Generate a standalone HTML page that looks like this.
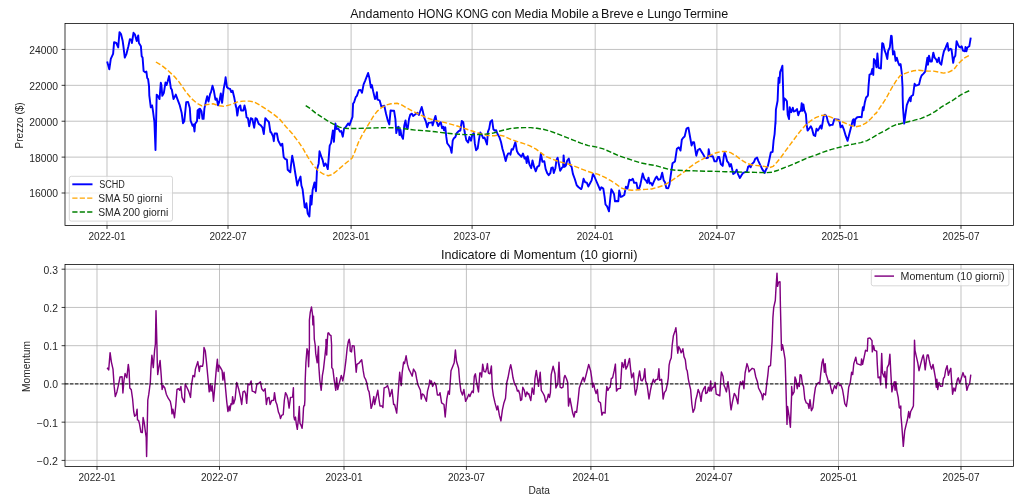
<!DOCTYPE html>
<html><head><meta charset="utf-8"><title>Andamento HONG KONG</title>
<style>html,body{margin:0;padding:0;background:#fff;}body{width:1024px;height:503px;overflow:hidden;}svg{display:block;will-change:transform;}text{font-family:"Liberation Sans",sans-serif;fill:#262626;}.t10{font-size:10px;}.t12{font-size:12.2px;fill:#111;}</style></head><body>
<svg width="1024" height="503" viewBox="0 0 1024 503">
<rect x="0" y="0" width="1024" height="503" fill="#ffffff"/>
<clipPath id="clip1"><rect x="65.0" y="23.5" width="948.5" height="202.0"/></clipPath>
<path d="M107.0 23.5V225.5M228.0 23.5V225.5M351.1 23.5V225.5M472.1 23.5V225.5M595.2 23.5V225.5M716.9 23.5V225.5M840.0 23.5V225.5M961.0 23.5V225.5M65.0 49.44H1013.5M65.0 85.33H1013.5M65.0 121.22H1013.5M65.0 157.11H1013.5M65.0 193.00H1013.5" stroke="#b0b0b0" stroke-width="0.77" fill="none"/>
<path d="M107.0 225.5v3.4M228.0 225.5v3.4M351.1 225.5v3.4M472.1 225.5v3.4M595.2 225.5v3.4M716.9 225.5v3.4M840.0 225.5v3.4M961.0 225.5v3.4M65.0 49.44h-3.4M65.0 85.33h-3.4M65.0 121.22h-3.4M65.0 157.11h-3.4M65.0 193.00h-3.4" stroke="#000" stroke-width="0.77" fill="none"/>
<text class="t10" transform="translate(107.00 239.80) skewX(0.02)" text-anchor="middle" textLength="37.0" lengthAdjust="spacingAndGlyphs">2022-01</text>
<text class="t10" transform="translate(228.00 239.80) skewX(0.02)" text-anchor="middle" textLength="37.0" lengthAdjust="spacingAndGlyphs">2022-07</text>
<text class="t10" transform="translate(351.10 239.80) skewX(0.02)" text-anchor="middle" textLength="37.0" lengthAdjust="spacingAndGlyphs">2023-01</text>
<text class="t10" transform="translate(472.10 239.80) skewX(0.02)" text-anchor="middle" textLength="37.0" lengthAdjust="spacingAndGlyphs">2023-07</text>
<text class="t10" transform="translate(595.20 239.80) skewX(0.02)" text-anchor="middle" textLength="37.0" lengthAdjust="spacingAndGlyphs">2024-01</text>
<text class="t10" transform="translate(716.90 239.80) skewX(0.02)" text-anchor="middle" textLength="37.0" lengthAdjust="spacingAndGlyphs">2024-07</text>
<text class="t10" transform="translate(840.00 239.80) skewX(0.02)" text-anchor="middle" textLength="37.0" lengthAdjust="spacingAndGlyphs">2025-01</text>
<text class="t10" transform="translate(961.00 239.80) skewX(0.02)" text-anchor="middle" textLength="37.0" lengthAdjust="spacingAndGlyphs">2025-07</text>
<text class="t10" transform="translate(58.00 53.84) skewX(0.02)" text-anchor="end" textLength="28.8" lengthAdjust="spacingAndGlyphs">24000</text>
<text class="t10" transform="translate(58.00 89.73) skewX(0.02)" text-anchor="end" textLength="28.8" lengthAdjust="spacingAndGlyphs">22000</text>
<text class="t10" transform="translate(58.00 125.62) skewX(0.02)" text-anchor="end" textLength="28.8" lengthAdjust="spacingAndGlyphs">20000</text>
<text class="t10" transform="translate(58.00 161.51) skewX(0.02)" text-anchor="end" textLength="28.8" lengthAdjust="spacingAndGlyphs">18000</text>
<text class="t10" transform="translate(58.00 197.40) skewX(0.02)" text-anchor="end" textLength="28.8" lengthAdjust="spacingAndGlyphs">16000</text>
<g clip-path="url(#clip1)" fill="none" stroke-linejoin="round">
<polyline points="107.4,62.5 109.3,69.3 110.8,58.9 113.1,53.8 114.1,42.1 116.3,43.0 118.2,47.4 119.5,32.2 121.0,34.1 122.7,41.1 123.3,45.5 124.8,57.6 126.5,53.8 128.4,46.2 129.9,39.2 131.6,39.8 131.9,43.0 133.5,32.8 135.0,34.7 136.7,41.1 138.2,35.4 138.9,43.0 140.9,46.2 141.7,56.3 142.6,57.6 143.6,71.0 145.2,72.2 146.4,71.6 147.2,78.0 148.1,79.2 149.0,86.0 149.3,95.3 150.8,107.3 152.1,105.4 152.9,110.5 154.4,122.0 155.5,150.0 156.7,94.6 158.2,96.5 159.5,99.1 160.8,82.8 161.4,85.1 162.3,95.9 163.9,92.7 165.5,82.5 166.5,85.1 167.7,81.3 169.1,76.1 170.9,88.3 171.8,89.5 173.5,99.1 175.8,94.6 177.9,100.4 179.8,105.4 181.7,113.1 183.0,123.2 184.3,121.3 186.2,102.3 188.1,101.9 189.8,108.0 190.6,120.7 192.6,125.8 193.6,124.5 194.5,131.5 195.1,123.9 197.0,121.3 197.6,110.5 198.9,109.3 199.2,118.2 199.9,108.6 201.5,111.2 202.5,118.8 203.6,118.8 204.4,108.6 205.9,101.6 207.2,96.3 208.5,101.6 210.1,94.0 211.0,92.1 212.5,85.7 213.9,90.8 215.4,99.7 216.7,98.4 218.0,105.4 219.3,101.6 220.8,93.4 222.1,102.9 223.7,88.9 225.1,81.3 225.6,77.3 226.9,87.0 228.2,88.3 230.1,88.9 231.3,92.1 232.6,90.8 234.3,97.8 235.8,106.1 236.4,108.0 237.3,115.6 238.6,107.3 240.3,105.4 241.1,110.5 243.4,110.5 244.5,105.4 245.7,110.5 246.6,117.5 247.9,118.2 249.2,126.4 250.8,118.2 252.3,118.8 254.2,127.7 255.5,118.2 256.8,118.8 258.7,123.9 260.6,125.2 262.5,127.7 263.8,134.1 265.3,118.2 267.0,120.1 268.9,122.0 270.4,132.2 271.2,132.3 273.1,136.7 273.8,141.2 274.6,133.5 276.9,133.5 278.2,140.5 280.8,145.6 282.3,143.7 283.7,157.1 285.2,159.0 286.9,159.6 287.7,169.8 290.3,172.3 290.9,166.0 292.2,155.8 293.7,163.4 295.4,174.0 297.3,185.5 298.6,181.1 300.5,176.6 301.4,185.5 302.6,189.3 304.7,207.2 305.6,207.8 306.4,203.3 307.7,213.5 309.4,216.4 310.6,195.7 311.5,204.6 312.6,190.0 314.5,182.4 316.0,191.3 317.0,169.6 318.7,163.4 319.5,151.3 321.2,156.4 322.7,160.2 324.0,166.0 325.5,163.4 326.5,165.3 327.8,169.1 329.1,153.2 329.7,145.6 331.0,143.1 332.9,130.4 333.9,141.8 335.4,123.4 336.7,129.1 338.2,128.4 339.9,131.6 341.2,131.0 342.8,136.7 344.1,128.4 345.6,127.2 348.2,123.4 349.4,125.3 351.3,120.2 352.5,116.9 353.1,103.5 354.1,102.3 355.7,97.2 356.9,95.9 358.8,90.2 360.5,89.9 362.0,92.7 363.6,84.4 365.2,80.6 368.1,73.0 369.4,78.1 370.9,87.6 371.9,85.1 373.2,91.4 375.0,99.1 376.3,96.5 376.9,92.1 377.5,99.7 379.6,100.3 381.4,106.7 383.0,106.1 384.3,105.7 385.6,111.8 386.1,114.0 387.8,120.4 389.3,124.4 390.6,110.4 392.5,110.8 394.1,110.8 395.4,119.1 396.3,133.1 397.6,127.3 398.6,126.7 399.5,135.0 400.5,129.9 401.4,135.6 403.0,138.8 404.3,125.4 405.5,120.4 406.5,127.3 407.7,128.6 409.0,119.1 410.3,114.6 411.9,113.7 413.2,115.9 415.4,114.2 417.3,112.7 418.9,115.0 421.7,107.0 423.0,112.1 424.3,117.8 425.9,121.6 427.2,127.3 428.5,122.9 430.6,122.6 432.2,122.3 432.6,125.4 434.1,120.4 435.5,115.9 436.6,121.6 438.3,126.1 439.9,122.9 440.8,122.3 442.1,128.2 443.4,126.7 444.0,130.3 445.3,127.3 446.3,136.9 447.2,143.2 449.1,145.8 450.4,147.7 451.6,152.8 452.7,140.7 453.9,138.2 455.4,136.9 456.7,133.1 458.6,131.2 460.3,130.5 461.8,121.0 463.3,122.3 464.6,131.8 466.3,140.1 468.2,142.6 469.4,136.9 471.0,140.7 472.2,135.0 473.9,133.1 474.8,143.2 476.1,150.2 477.7,148.3 479.0,139.4 480.3,132.4 481.5,134.3 483.2,138.2 484.5,137.5 485.7,140.7 487.0,144.5 487.9,131.8 489.2,128.6 490.4,121.6 492.1,120.1 493.4,129.3 494.6,130.5 496.2,130.3 497.4,133.7 499.3,136.9 501.0,142.0 502.5,149.0 503.5,152.2 505.7,161.1 507.0,156.0 508.2,153.4 510.4,153.4 510.4,153.5 510.4,154.8 511.6,149.1 512.9,149.7 515.4,142.1 516.9,151.0 518.2,153.5 520.1,155.4 521.4,156.7 523.0,153.5 524.6,158.6 525.8,157.3 526.7,163.1 527.7,156.1 529.4,164.3 531.2,168.2 532.5,160.5 534.1,166.9 535.8,171.3 537.3,166.9 539.2,165.6 540.9,153.5 542.4,161.8 544.3,161.2 545.6,168.8 547.2,173.2 548.7,175.2 550.3,173.2 551.3,167.9 552.8,167.5 553.8,173.0 555.4,168.2 556.4,160.5 557.6,157.7 558.9,164.3 560.2,170.7 562.1,167.5 563.1,166.9 563.6,155.4 564.6,166.9 565.9,165.6 567.2,160.5 568.8,158.6 570.1,165.0 571.6,166.9 572.9,173.9 574.8,179.0 576.7,185.3 578.6,187.2 581.2,189.1 581.9,187.3 583.6,178.8 585.2,182.3 586.8,182.6 588.3,186.5 589.9,183.5 591.6,180.4 592.9,174.0 594.4,176.5 596.3,181.0 598.2,185.4 600.1,189.9 601.4,187.3 603.3,188.6 604.6,196.9 605.5,204.5 607.1,206.4 609.0,211.3 610.3,198.2 611.3,189.3 612.8,191.8 614.1,194.3 615.0,201.3 616.7,201.0 618.3,201.3 619.2,190.5 620.9,196.9 622.4,196.3 624.3,195.0 625.9,186.7 627.5,188.6 629.4,179.7 631.0,180.4 632.8,178.8 634.1,182.9 636.4,182.6 637.6,188.6 638.9,189.3 640.2,185.4 641.5,179.1 642.7,173.4 644.4,179.1 645.9,180.4 647.2,182.9 648.5,177.8 649.7,183.5 651.0,182.9 652.3,185.4 653.5,182.3 655.4,178.4 656.7,176.5 658.2,179.7 660.5,179.1 662.2,172.7 663.7,180.4 665.0,182.3 666.3,188.0 668.2,188.2 669.4,184.8 670.6,176.1 672.5,163.3 675.0,161.4 676.9,148.7 678.8,147.4 680.5,150.6 681.8,139.8 683.0,137.9 684.6,136.6 686.5,128.7 688.4,127.7 689.9,136.0 691.6,145.5 692.8,142.3 694.1,142.3 696.3,155.7 697.9,150.0 699.8,148.7 701.7,151.9 703.6,155.1 704.9,157.6 706.8,158.2 708.1,157.6 708.7,149.3 709.8,155.7 711.3,156.3 712.8,156.3 714.5,161.4 716.4,161.4 717.9,157.0 719.2,157.0 720.8,164.0 722.7,165.9 723.7,157.0 724.6,152.5 725.9,156.3 727.2,161.4 728.5,162.7 729.7,166.5 731.0,164.0 732.3,169.7 733.2,174.1 734.8,172.9 736.1,171.0 736.7,169.7 738.0,174.1 739.9,178.0 741.8,174.8 743.1,172.9 745.4,172.2 746.9,171.6 748.2,166.5 749.4,165.9 750.7,167.2 752.0,164.0 753.9,162.1 755.2,158.9 757.1,157.6 758.3,160.8 760.3,165.2 762.2,169.1 764.7,172.9 766.0,169.7 767.9,165.9 769.2,160.2 770.8,152.5 772.6,151.9 773.6,140.4 774.6,134.1 775.5,121.4 775.5,124.0 775.9,109.6 777.6,100.7 778.2,85.4 778.6,77.8 779.5,82.9 780.1,72.1 781.4,68.9 782.4,65.7 783.0,85.4 783.3,98.2 783.6,109.6 784.2,98.2 785.5,99.4 786.9,101.3 787.7,114.7 789.0,119.1 789.7,107.1 791.2,112.2 792.8,107.7 793.7,111.5 795.4,110.9 797.0,109.0 798.3,115.3 799.6,111.5 800.9,110.9 801.7,103.2 802.6,110.9 803.4,104.5 804.3,110.2 805.6,113.4 805.9,114.1 806.7,124.9 807.6,130.6 809.5,128.1 810.8,126.2 812.0,128.7 813.6,135.1 815.2,136.0 816.5,128.7 817.7,130.6 819.0,128.7 820.7,125.5 821.6,128.7 822.8,121.7 823.7,116.0 825.0,114.7 826.7,116.6 827.9,121.7 829.6,125.5 831.1,124.9 832.6,124.9 834.3,119.2 836.2,119.4 838.7,119.8 839.8,122.3 840.6,127.4 842.3,125.5 843.8,129.3 845.7,135.7 847.6,140.8 849.5,133.2 851.5,125.5 852.7,120.4 853.6,119.2 854.4,125.5 855.3,119.2 857.2,117.3 859.7,116.9 861.6,117.3 862.3,111.5 862.9,107.1 863.5,110.3 864.8,102.6 866.1,97.5 867.4,96.3 868.0,95.0 868.5,86.7 869.5,74.6 871.1,74.0 872.3,68.9 873.2,74.6 873.3,74.9 873.9,59.0 875.2,60.9 876.5,67.2 877.4,53.5 878.6,67.9 880.9,68.5 882.2,43.1 883.2,43.7 884.7,50.7 886.0,53.9 887.3,59.0 888.2,50.7 889.8,47.5 891.1,35.7 891.7,36.1 893.0,54.5 894.3,51.3 895.6,60.9 896.8,57.7 898.5,63.4 899.4,65.3 900.6,64.1 901.7,72.3 902.6,88.0 902.6,95.0 903.0,107.7 904.2,123.6 905.5,114.1 906.8,105.2 908.7,100.1 910.0,97.5 910.6,101.4 911.2,96.3 913.1,95.0 914.0,88.0 914.6,83.8 915.9,85.7 917.6,85.1 919.1,84.4 920.4,78.7 921.6,75.5 923.5,73.6 925.2,71.7 926.5,63.4 927.4,57.7 928.0,64.7 929.0,55.8 930.3,61.5 931.8,61.5 933.3,52.6 934.6,57.7 936.3,59.6 937.2,62.2 938.8,57.7 939.7,62.8 941.3,64.7 942.6,57.1 943.9,51.3 945.2,48.8 946.4,45.6 947.5,43.1 948.6,50.7 950.3,48.8 951.5,49.4 953.2,62.8 954.1,57.7 955.3,55.8 956.6,41.2 957.9,44.4 959.2,46.9 960.4,47.5 961.7,46.3 963.0,50.7 964.9,51.3 965.5,46.9 966.4,51.3 967.4,47.5 969.3,46.3 970.6,38.6" stroke="#0000ff" stroke-width="1.92" stroke-linecap="square"/>
<polyline points="155.9,62.0 161.7,65.5 167.9,70.5 174.2,76.3 179.2,82.1 185.5,91.3 191.7,98.8 196.7,103.1 201.8,105.8 206.8,104.6 213.0,103.8 219.3,105.8 224.3,106.4 230.6,104.6 236.8,102.1 243.1,101.1 249.3,101.1 254.4,102.1 260.6,105.6 266.9,109.6 273.1,113.9 279.4,118.9 285.7,126.4 291.9,133.2 298.2,141.4 303.2,148.9 308.2,157.7 313.2,165.2 318.2,170.7 323.2,174.0 328.2,175.7 332.0,174.7 337.0,170.7 343.3,165.2 349.5,160.2 352.0,158.2 354.5,152.7 358.3,142.7 362.1,135.2 365.8,128.9 369.6,122.6 373.3,116.4 377.1,111.4 380.9,108.1 385.9,105.1 390.9,103.8 397.1,103.3 402.1,105.1 406.7,108.0 412.9,111.3 420.4,115.0 428.0,118.3 435.5,120.6 443.0,122.1 450.5,124.1 458.0,126.3 465.5,128.8 473.0,131.3 480.6,133.8 488.1,135.6 494.3,135.8 499.3,135.1 504.4,136.3 510.6,139.3 516.9,141.4 523.1,143.4 529.4,145.6 535.7,148.9 540.7,152.6 545.7,156.4 551.9,158.9 558.2,161.4 564.5,163.1 570.7,164.6 578.2,167.7 585.8,170.7 592.0,172.7 598.3,174.4 604.5,177.2 610.8,180.7 615.8,183.9 620.8,187.7 625.8,189.7 632.1,190.2 638.4,189.7 645.9,189.4 650.9,188.9 651.7,189.0 657.9,187.2 664.2,185.2 670.4,181.4 676.7,177.2 683.0,172.7 689.2,167.7 695.5,163.2 701.8,159.6 708.0,156.4 714.3,153.4 720.5,151.6 725.5,151.4 730.6,152.6 735.6,155.6 740.6,159.4 746.8,163.4 753.1,165.2 759.4,165.7 764.4,166.4 769.4,167.7 773.1,166.4 776.9,162.2 780.7,157.6 785.7,150.6 790.7,143.9 795.7,137.1 800.7,130.6 805.7,125.1 810.7,120.8 815.7,117.6 820.7,115.6 825.7,115.1 830.8,117.1 835.8,119.6 840.8,121.3 845.8,123.3 850.8,125.6 855.8,126.8 860.8,125.8 865.8,123.1 870.8,118.8 875.8,113.1 876.1,113.4 881.1,105.9 886.1,98.4 891.1,89.1 896.1,80.9 899.9,75.9 903.7,73.9 908.7,72.1 913.7,70.8 918.7,70.3 923.7,70.8 928.7,71.1 933.7,71.1 938.7,72.1 943.7,73.1 948.8,72.1 953.8,69.6 957.5,64.6 961.3,60.8 965.0,57.6 970.0,55.1" stroke="#ffa500" stroke-width="1.44" stroke-dasharray="5.2 2.23"/>
<polyline points="305.7,105.6 310.7,108.9 315.7,113.1 320.7,116.4 325.7,119.6 329.5,122.1 334.5,124.6 339.5,127.1 344.5,128.4 350.8,128.6 358.3,128.4 365.8,128.1 375.8,127.9 385.9,127.6 395.9,127.9 400.4,128.1 407.9,129.3 415.4,130.1 425.4,130.8 435.5,131.8 445.5,133.1 455.5,134.1 465.5,134.6 475.5,134.6 485.6,134.1 493.1,133.1 499.3,131.3 505.6,129.6 511.9,128.3 518.1,127.8 524.4,127.6 530.7,127.6 536.9,128.3 543.2,129.3 550.7,131.3 558.2,134.1 565.7,137.1 573.2,140.1 580.8,143.1 588.3,145.6 595.8,146.9 603.3,148.9 610.8,152.1 618.3,155.6 625.8,158.1 633.4,160.6 640.9,162.9 648.4,164.4 650.4,164.7 656.7,165.9 662.9,167.7 669.2,169.4 675.4,170.2 685.5,170.7 695.5,170.9 705.5,171.2 715.5,171.4 725.5,171.7 735.6,171.9 745.6,172.2 755.6,172.4 765.6,172.7 771.9,172.2 778.1,170.2 785.7,167.2 793.2,164.2 800.7,160.9 808.2,157.6 815.7,155.1 823.2,152.1 830.8,149.6 838.3,147.6 845.8,145.6 853.3,144.1 860.8,142.6 867.1,140.6 873.3,137.1 879.6,133.3 885.9,130.1 892.1,126.3 898.4,123.8 898.7,124.2 906.2,122.2 913.7,120.4 921.2,118.4 928.7,115.2 935.0,111.7 941.2,107.2 947.5,103.4 953.8,99.7 960.0,95.4 965.0,92.6 970.0,90.4" stroke="#008000" stroke-width="1.44" stroke-dasharray="5.2 2.23"/>
</g>
<rect x="65.0" y="23.5" width="948.5" height="202.0" fill="none" stroke="#000" stroke-width="0.77"/>
<clipPath id="clip2"><rect x="65.0" y="264.5" width="948.5" height="202.0"/></clipPath>
<path d="M97.0 264.5V466.5M219.5 264.5V466.5M344.0 264.5V466.5M466.4 264.5V466.5M590.9 264.5V466.5M714.0 264.5V466.5M838.5 264.5V466.5M961.0 264.5V466.5M65.0 269.20H1013.5M65.0 307.44H1013.5M65.0 345.68H1013.5M65.0 383.92H1013.5M65.0 422.16H1013.5M65.0 460.40H1013.5" stroke="#b0b0b0" stroke-width="0.77" fill="none"/>
<path d="M97.0 466.5v3.4M219.5 466.5v3.4M344.0 466.5v3.4M466.4 466.5v3.4M590.9 466.5v3.4M714.0 466.5v3.4M838.5 466.5v3.4M961.0 466.5v3.4M65.0 269.20h-3.4M65.0 307.44h-3.4M65.0 345.68h-3.4M65.0 383.92h-3.4M65.0 422.16h-3.4M65.0 460.40h-3.4" stroke="#000" stroke-width="0.77" fill="none"/>
<text class="t10" transform="translate(97.00 480.60) skewX(0.02)" text-anchor="middle" textLength="37.0" lengthAdjust="spacingAndGlyphs">2022-01</text>
<text class="t10" transform="translate(219.50 480.60) skewX(0.02)" text-anchor="middle" textLength="37.0" lengthAdjust="spacingAndGlyphs">2022-07</text>
<text class="t10" transform="translate(344.00 480.60) skewX(0.02)" text-anchor="middle" textLength="37.0" lengthAdjust="spacingAndGlyphs">2023-01</text>
<text class="t10" transform="translate(466.40 480.60) skewX(0.02)" text-anchor="middle" textLength="37.0" lengthAdjust="spacingAndGlyphs">2023-07</text>
<text class="t10" transform="translate(590.90 480.60) skewX(0.02)" text-anchor="middle" textLength="37.0" lengthAdjust="spacingAndGlyphs">2024-01</text>
<text class="t10" transform="translate(714.00 480.60) skewX(0.02)" text-anchor="middle" textLength="37.0" lengthAdjust="spacingAndGlyphs">2024-07</text>
<text class="t10" transform="translate(838.50 480.60) skewX(0.02)" text-anchor="middle" textLength="37.0" lengthAdjust="spacingAndGlyphs">2025-01</text>
<text class="t10" transform="translate(961.00 480.60) skewX(0.02)" text-anchor="middle" textLength="37.0" lengthAdjust="spacingAndGlyphs">2025-07</text>
<text class="t10" transform="translate(58.00 273.60) skewX(0.02)" text-anchor="end" textLength="14.4" lengthAdjust="spacingAndGlyphs">0.3</text>
<text class="t10" transform="translate(58.00 311.84) skewX(0.02)" text-anchor="end" textLength="14.4" lengthAdjust="spacingAndGlyphs">0.2</text>
<text class="t10" transform="translate(58.00 350.08) skewX(0.02)" text-anchor="end" textLength="14.4" lengthAdjust="spacingAndGlyphs">0.1</text>
<text class="t10" transform="translate(58.00 388.32) skewX(0.02)" text-anchor="end" textLength="14.4" lengthAdjust="spacingAndGlyphs">0.0</text>
<text class="t10" transform="translate(58.00 426.56) skewX(0.02)" text-anchor="end" textLength="21.2" lengthAdjust="spacingAndGlyphs">−0.1</text>
<text class="t10" transform="translate(58.00 464.80) skewX(0.02)" text-anchor="end" textLength="21.2" lengthAdjust="spacingAndGlyphs">−0.2</text>
<g clip-path="url(#clip2)" fill="none" stroke-linejoin="round">
<polyline points="107.5,368.3 108.7,369.9 110.1,352.6 111.4,362.1 113.0,369.1 114.2,386.4 115.3,396.6 116.9,391.9 118.5,384.8 120.0,377.0 122.1,376.7 122.9,393.0 124.0,380.1 125.1,373.5 126.8,377.8 128.3,364.4 129.1,370.7 129.8,388.0 131.3,389.8 132.6,399.0 133.7,411.5 134.6,416.2 136.2,414.7 137.1,409.2 137.5,419.9 138.5,420.3 139.5,423.9 140.9,432.2 142.3,432.6 143.1,417.5 144.3,423.1 145.4,431.8 146.2,437.4 146.6,456.6 147.3,423.9 147.8,400.0 148.8,394.2 150.3,382.5 151.0,367.6 151.9,355.3 153.3,367.6 154.6,350.3 155.4,344.0 156.0,310.6 156.9,344.0 157.2,359.7 157.7,374.6 158.8,367.6 160.1,360.5 161.2,375.4 162.1,389.5 163.2,385.6 164.8,388.0 166.3,394.2 168.2,398.2 170.3,401.3 171.4,406.8 172.0,413.9 172.9,409.2 174.5,417.8 175.8,405.2 177.0,389.5 178.6,388.7 179.7,390.3 180.9,386.4 182.0,397.4 184.4,402.4 185.2,384.0 186.8,387.2 188.6,391.1 190.5,397.4 191.5,384.8 193.0,375.4 194.6,376.7 195.4,369.1 197.8,361.6 199.3,371.5 200.1,366.0 202.5,366.3 203.2,362.8 204.0,347.5 205.3,351.1 206.4,361.3 208.0,378.5 209.2,391.9 210.3,384.0 211.1,391.1 212.2,385.6 213.5,401.3 214.7,388.0 216.3,369.1 217.4,359.2 218.2,371.5 218.9,365.2 220.5,367.6 222.1,370.7 222.9,380.1 224.0,372.3 225.2,384.8 226.8,402.1 227.9,411.5 229.2,406.0 229.9,410.7 231.0,403.7 232.0,404.5 232.6,396.6 233.6,403.7 235.1,399.0 236.7,382.5 238.6,388.7 240.5,397.4 241.7,404.5 243.0,391.9 244.5,391.1 245.6,393.5 246.7,403.4 248.0,384.0 249.6,384.8 251.1,380.9 252.2,391.1 254.3,391.9 255.5,393.0 256.9,384.0 259.0,383.3 260.4,381.7 261.7,388.7 263.5,391.1 265.1,388.7 266.4,404.5 267.5,398.2 269.0,397.4 270.1,404.5 271.7,400.5 273.7,400.2 274.5,392.7 275.8,401.8 276.9,404.5 278.5,412.3 279.6,414.7 280.5,418.6 281.6,415.4 283.2,414.7 284.3,400.5 285.5,392.7 286.8,395.0 287.9,399.0 289.1,408.1 290.5,397.4 292.6,397.1 293.4,387.7 293.9,416.7 294.6,419.9 295.5,417.1 296.3,423.9 297.3,429.3 298.3,419.9 299.3,406.4 299.9,423.1 301.1,425.4 302.1,428.2 302.9,419.9 303.5,408.0 303.9,405.6 304.5,405.6 304.9,400.0 305.1,383.3 305.9,362.8 307.0,348.7 308.0,351.9 308.6,366.8 309.4,347.1 309.4,320.1 310.3,312.2 311.5,307.0 312.5,314.5 312.9,324.9 313.5,316.1 313.9,324.9 314.3,339.2 315.2,345.0 315.7,353.4 317.2,362.8 318.5,346.4 318.8,366.0 319.8,380.1 321.2,390.3 322.4,375.4 323.5,369.1 324.8,357.3 326.0,345.6 326.0,339.4 326.7,355.0 327.4,339.4 327.9,333.2 328.6,332.8 329.8,334.8 331.0,335.6 331.6,345.0 331.6,353.4 331.8,367.6 332.9,369.1 334.2,380.1 335.8,390.3 336.6,377.8 337.7,389.5 338.9,384.8 339.7,381.7 341.3,375.4 342.8,380.9 344.4,372.3 346.0,359.7 347.1,348.7 348.3,341.6 349.2,339.2 350.0,344.0 350.2,351.1 351.5,351.9 352.3,345.6 354.1,345.9 355.1,358.1 356.2,372.3 357.0,364.4 359.3,362.8 361.7,359.7 363.2,370.7 364.3,377.0 365.6,379.3 366.9,383.3 368.0,389.5 369.1,391.9 370.3,400.5 371.1,408.4 372.2,405.2 373.8,396.6 374.6,404.5 375.8,399.0 377.8,390.3 378.9,399.0 380.0,406.0 382.1,406.0 382.9,407.6 384.1,388.0 386.0,387.2 387.6,385.6 388.8,389.5 389.9,396.6 392.0,389.5 393.6,404.5 394.6,404.5 396.7,413.1 398.3,391.1 399.7,372.3 401.2,385.6 402.2,372.3 403.6,362.1 404.5,363.6 406.1,355.8 407.5,364.4 408.8,369.1 410.4,372.3 412.2,376.2 413.5,369.1 415.5,372.3 416.6,378.5 417.9,384.8 420.4,390.3 421.2,399.0 422.3,393.9 423.9,395.0 426.4,401.3 427.5,391.1 429.0,385.6 429.8,380.1 430.6,383.3 431.4,380.9 432.6,386.4 434.5,382.5 436.1,385.6 437.4,395.0 439.2,395.0 440.0,392.7 441.6,402.9 444.0,404.5 445.2,417.0 446.8,399.0 448.3,391.1 449.4,394.2 451.0,370.7 452.6,366.8 454.2,362.8 455.4,350.0 456.5,361.3 458.6,368.3 459.7,381.7 460.9,391.1 462.5,395.0 463.9,389.5 465.6,401.3 467.2,398.2 468.8,394.2 469.9,396.6 471.0,393.5 472.2,391.1 473.3,392.7 474.3,376.2 475.4,373.8 476.6,382.5 478.5,391.9 479.8,373.0 480.9,373.0 481.6,377.0 482.7,364.1 484.0,371.5 485.6,371.9 486.8,367.6 487.4,363.6 488.4,373.0 490.0,373.8 491.4,366.0 492.3,388.0 493.4,395.8 495.0,402.9 496.9,409.9 497.8,406.0 499.4,415.4 500.9,420.9 502.4,409.9 503.9,402.9 505.5,398.2 506.8,382.5 508.0,377.8 509.6,369.1 510.7,364.7 511.8,369.9 513.0,377.8 514.6,384.0 516.2,386.4 517.4,391.1 518.5,390.3 519.8,394.2 520.6,400.5 521.7,399.7 522.8,387.2 524.3,390.3 525.6,396.6 526.9,391.9 528.0,394.2 528.7,393.5 530.8,400.5 532.2,388.0 533.8,394.2 535.0,378.5 536.3,370.4 537.4,377.8 538.5,386.4 540.2,372.3 541.3,390.3 543.2,393.5 544.4,395.8 545.7,402.1 547.3,399.0 548.4,394.2 549.5,397.4 550.4,392.7 551.2,374.6 553.1,366.3 555.0,373.8 555.9,388.0 557.8,384.0 559.0,362.1 560.1,387.2 561.4,388.0 563.0,387.2 564.1,377.8 564.9,375.4 566.4,378.5 567.7,382.5 568.5,406.0 569.9,398.2 571.1,404.5 572.7,413.1 574.0,417.0 575.1,411.5 576.6,412.3 578.2,399.0 579.3,388.0 580.4,384.8 581.7,380.9 583.2,377.3 584.3,381.7 586.4,373.8 588.7,364.4 590.6,370.7 591.7,377.8 592.6,387.2 593.7,383.3 594.8,389.5 596.1,393.5 597.4,389.5 598.5,401.3 600.5,402.9 601.9,415.1 603.2,412.3 605.1,413.1 605.8,399.0 606.8,386.4 607.9,390.3 609.1,388.0 610.2,387.2 611.3,378.5 612.6,377.8 614.2,370.7 615.4,364.1 616.5,391.1 618.1,388.7 620.4,388.4 621.2,375.4 622.0,362.5 623.6,367.6 625.1,359.4 625.9,369.1 627.5,366.0 629.5,358.4 630.6,369.1 631.7,377.8 633.5,373.0 634.6,388.0 635.4,395.0 636.9,388.7 638.5,377.0 639.6,371.0 640.9,380.1 642.1,380.9 643.7,377.8 644.8,368.8 645.6,380.9 647.1,384.8 649.0,399.0 650.6,389.5 651.8,384.0 653.4,379.3 654.5,382.5 655.8,379.8 657.7,379.3 658.9,368.8 659.7,380.4 661.6,379.3 662.4,389.5 663.1,399.0 664.4,392.7 666.0,390.3 667.5,383.3 668.3,377.8 669.1,365.2 669.9,361.3 671.2,358.1 672.2,345.2 673.4,335.7 675.0,330.9 675.9,327.7 676.6,334.9 677.1,346.8 677.8,353.2 678.7,346.7 679.9,348.8 681.1,352.8 681.9,351.6 682.9,348.8 683.7,354.4 684.0,356.6 685.3,359.7 686.4,369.1 687.2,370.7 688.4,379.3 689.5,384.8 690.6,389.5 691.9,404.5 693.1,412.3 694.7,408.4 695.8,399.7 696.9,395.8 698.2,389.5 699.7,393.5 701.0,401.3 702.1,392.7 703.7,388.7 705.2,386.4 705.7,393.5 707.3,392.7 708.4,387.2 709.5,391.1 710.7,380.9 711.2,391.1 712.8,387.2 713.9,387.2 715.1,382.5 716.2,394.2 718.3,395.0 719.8,395.8 720.6,381.7 721.4,371.9 723.0,376.2 724.1,385.6 724.9,387.2 726.4,391.9 728.0,381.7 729.3,391.1 730.4,404.5 731.1,409.9 732.4,402.1 734.3,393.5 735.8,395.8 737.9,403.7 739.0,389.5 740.4,381.7 741.7,384.8 742.8,380.9 743.9,388.7 745.1,373.0 747.0,363.6 748.3,367.6 749.0,371.9 750.6,369.9 752.2,368.3 754.2,369.1 755.8,377.0 757.4,381.7 758.5,388.0 760.5,391.9 761.6,394.2 762.7,399.7 763.6,393.5 765.5,395.0 766.8,383.3 767.9,374.6 768.7,366.5 770.5,365.7 771.3,353.4 772.1,341.4 772.9,317.8 773.7,307.6 775.3,300.5 776.0,288.0 777.0,273.1 777.6,286.4 778.4,282.5 780.0,281.7 780.4,305.3 780.9,325.7 781.5,350.3 782.5,344.8 783.6,350.3 785.1,359.7 785.6,375.4 786.2,395.8 786.5,406.9 787.0,424.4 787.6,406.5 789.0,415.7 790.4,427.2 791.0,410.9 791.6,395.0 791.6,386.4 792.5,395.0 794.1,391.9 795.0,377.0 796.1,380.1 797.2,388.7 798.2,383.3 799.3,386.4 800.1,374.6 801.3,375.4 802.4,384.0 803.5,386.4 804.8,399.0 806.3,402.9 807.9,403.7 809.0,408.4 810.0,399.7 811.4,410.7 812.9,407.6 814.2,395.8 815.5,387.2 816.9,384.0 818.6,382.5 819.7,384.0 820.8,373.0 822.0,362.8 823.1,358.9 824.4,372.3 825.2,363.6 826.0,373.8 827.5,378.5 828.6,383.3 829.6,380.9 830.7,387.2 832.3,393.5 833.4,389.5 834.6,385.6 836.2,388.7 837.3,383.3 838.5,382.5 839.6,385.6 840.9,384.8 842.5,389.5 843.6,395.8 844.8,403.7 846.4,406.5 847.5,399.0 848.7,387.2 850.3,382.5 851.6,372.3 852.7,374.6 853.8,363.6 855.8,357.3 856.9,363.6 858.9,364.4 861.0,365.2 861.6,358.9 862.6,364.4 864.1,357.3 865.5,350.3 867.3,351.1 867.9,338.5 869.9,337.9 872.0,340.6 872.3,351.9 873.6,345.6 874.6,350.3 876.7,351.1 877.3,364.4 878.1,377.8 879.8,377.0 880.6,384.8 881.7,353.4 882.5,373.0 884.1,377.0 884.9,371.5 886.1,388.0 887.2,367.6 888.8,364.4 889.9,354.2 890.8,372.3 891.9,391.9 893.0,386.4 894.3,381.7 895.1,390.3 895.8,381.7 896.9,391.1 898.2,397.4 899.3,407.6 900.4,408.4 900.8,406.0 900.9,415.0 901.9,426.9 903.3,446.4 904.7,430.9 906.2,424.5 907.4,419.8 908.7,411.5 909.6,417.8 910.7,411.5 912.3,408.4 913.4,406.0 913.9,383.3 914.2,359.7 914.5,340.1 915.0,350.3 916.2,355.8 917.8,362.8 919.0,370.7 920.6,364.4 922.2,358.1 923.3,355.0 924.1,359.7 925.2,369.9 926.4,359.7 927.2,355.0 928.3,355.0 929.1,359.7 930.3,365.2 931.6,369.1 933.0,364.4 934.3,371.5 935.4,377.8 936.3,387.2 936.9,379.3 937.7,389.5 939.0,382.5 940.6,386.4 942.4,386.1 943.4,378.5 944.5,377.0 945.7,369.9 947.1,365.7 948.4,375.4 949.7,370.7 950.8,368.3 951.5,379.3 952.6,394.2 953.9,388.0 955.2,391.1 956.3,384.8 957.4,379.3 958.3,377.8 959.7,383.3 961.0,379.3 963.0,372.6 964.4,377.0 965.4,376.2 966.0,383.3 966.9,390.3 968.3,385.6 969.6,384.0 970.7,375.4" stroke="#800080" stroke-width="1.44" stroke-linecap="square"/>
<path d="M65.0 383.9H1013.5" stroke="#000" stroke-width="0.96" stroke-dasharray="3.4 1.6"/>
</g>
<rect x="65.0" y="264.5" width="948.5" height="202.0" fill="none" stroke="#000" stroke-width="0.77"/>
<text class="t12" transform="translate(350.30 18.40) skewX(0.02)" textLength="63.5" lengthAdjust="spacingAndGlyphs">Andamento</text>
<text class="t12" transform="translate(417.90 18.40) skewX(0.02)" textLength="35.0" lengthAdjust="spacingAndGlyphs">HONG</text>
<text class="t12" transform="translate(455.80 18.40) skewX(0.02)" textLength="32.7" lengthAdjust="spacingAndGlyphs">KONG</text>
<text class="t12" transform="translate(491.40 18.40) skewX(0.02)" textLength="20.1" lengthAdjust="spacingAndGlyphs">con</text>
<text class="t12" transform="translate(514.40 18.40) skewX(0.02)" textLength="33.4" lengthAdjust="spacingAndGlyphs">Media</text>
<text class="t12" transform="translate(551.10 18.40) skewX(0.02)" textLength="37.7" lengthAdjust="spacingAndGlyphs">Mobile</text>
<text class="t12" transform="translate(591.70 18.40) skewX(0.02)" textLength="6.9" lengthAdjust="spacingAndGlyphs">a</text>
<text class="t12" transform="translate(601.10 18.40) skewX(0.02)" textLength="32.7" lengthAdjust="spacingAndGlyphs">Breve</text>
<text class="t12" transform="translate(636.70 18.40) skewX(0.02)" textLength="6.8" lengthAdjust="spacingAndGlyphs">e</text>
<text class="t12" transform="translate(647.20 18.40) skewX(0.02)" textLength="34.2" lengthAdjust="spacingAndGlyphs">Lungo</text>
<text class="t12" transform="translate(683.60 18.40) skewX(0.02)" textLength="44.7" lengthAdjust="spacingAndGlyphs">Termine</text>
<text class="t12" transform="translate(441.00 258.80) skewX(0.02)" textLength="55.3" lengthAdjust="spacingAndGlyphs">Indicatore</text>
<text class="t12" transform="translate(500.00 258.80) skewX(0.02)" textLength="9.6" lengthAdjust="spacingAndGlyphs">di</text>
<text class="t12" transform="translate(513.60 258.80) skewX(0.02)" textLength="62.6" lengthAdjust="spacingAndGlyphs">Momentum</text>
<text class="t12" transform="translate(580.20 258.80) skewX(0.02)" textLength="17.7" lengthAdjust="spacingAndGlyphs">(10</text>
<text class="t12" transform="translate(601.70 258.80) skewX(0.02)" textLength="35.8" lengthAdjust="spacingAndGlyphs">giorni)</text>
<text class="t10" transform="translate(539.20 493.80) skewX(0.02)" text-anchor="middle" textLength="21.5" lengthAdjust="spacingAndGlyphs">Data</text>
<text class="t10" transform="translate(23.40 125.40) rotate(-90) skewX(0.02)" text-anchor="middle" textLength="46.0" lengthAdjust="spacingAndGlyphs">Prezzo ($)</text>
<text class="t10" transform="translate(30.00 366.50) rotate(-90) skewX(0.02)" text-anchor="middle" textLength="51.0" lengthAdjust="spacingAndGlyphs">Momentum</text>
<rect x="69.3" y="176.3" width="103.2" height="44.8" rx="2" ry="2" fill="#ffffff" fill-opacity="0.8" stroke="#cccccc" stroke-opacity="0.8" stroke-width="0.96"/>
<path d="M72.3 184.3H92.5" stroke="#0000ff" stroke-width="1.92"/>
<path d="M72.3 198.1H92.5" stroke="#ffa500" stroke-width="1.44" stroke-dasharray="5.2 2.23"/>
<path d="M72.3 212.0H92.5" stroke="#008000" stroke-width="1.44" stroke-dasharray="5.2 2.23"/>
<text class="t10" transform="translate(99.20 187.80) skewX(0.02)" textLength="25.6" lengthAdjust="spacingAndGlyphs">SCHD</text>
<text class="t10" transform="translate(98.20 201.80) skewX(0.02)" textLength="64.0" lengthAdjust="spacingAndGlyphs">SMA 50 giorni</text>
<text class="t10" transform="translate(98.20 215.70) skewX(0.02)" textLength="70.0" lengthAdjust="spacingAndGlyphs">SMA 200 giorni</text>
<rect x="871.3" y="269.3" width="137.6" height="16.5" rx="2" ry="2" fill="#ffffff" fill-opacity="0.8" stroke="#cccccc" stroke-opacity="0.8" stroke-width="0.96"/>
<path d="M874.5 276.1H894" stroke="#800080" stroke-width="1.44"/>
<text class="t10" transform="translate(900.60 279.90) skewX(0.02)" textLength="104.0" lengthAdjust="spacingAndGlyphs">Momentum (10 giorni)</text>
</svg></body></html>
